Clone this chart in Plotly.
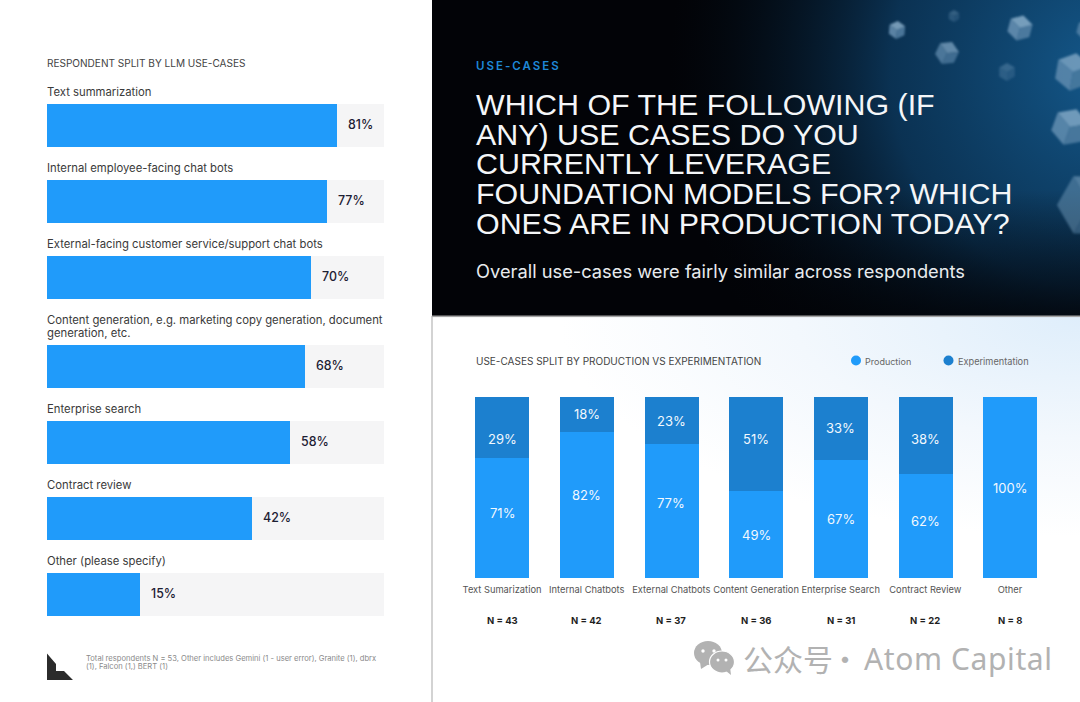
import base64
import plotly.graph_objects as go

W, H = 1080, 702

# Left panel. The picture's bars are not proportional to their printed labels,
# so the drawn length (share of the grey track) and the printed label are kept apart.
use_cases = ["Text summarization", "Internal employee-facing chat bots",
             "External-facing customer service/support chat bots",
             "Content generation, e.g. marketing copy generation, document<br>generation, etc.",
             "Enterprise search", "Contract review", "Other (please specify)"]
use_case_drawn = [86.1, 83.1, 78.3, 76.6, 72.1, 60.8, 27.6]
use_case_labels = ["81%", "77%", "70%", "68%", "58%", "42%", "15%"]

# Right panel: same distinction for the stacked bars
categories = ["Text Sumarization", "Internal Chatbots", "External Chatbots", "Content Generation",
              "Enterprise Search", "Contract Review", "Other"]
production_drawn = [66.3, 80.7, 74.0, 48.0, 65.2, 57.5, 100.0]
experimentation_drawn = [33.7, 19.3, 26.0, 52.0, 34.8, 42.5, 0.0]
production_labels = ["71%", "82%", "77%", "49%", "67%", "62%", "100%"]
experimentation_labels = ["29%", "18%", "23%", "51%", "33%", "38%", ""]
respondents = ["N = 43", "N = 42", "N = 37", "N = 36", "N = 31", "N = 22", "N = 8"]

title_lines = ["WHICH OF THE FOLLOWING (IF", "ANY) USE CASES DO YOU", "CURRENTLY LEVERAGE",
               "FOUNDATION MODELS FOR? WHICH", "ONES ARE IN PRODUCTION TODAY?"]

BLUE, DARK = "#209BFA", "#1C80CF"
SANS = "Inter, Arial, sans-serif"
LIB = "Liberation Sans, Arial, sans-serif"


def cube(cx, cy, r, op, rot=0):
    a = (cx, cy - r); b = (cx + r * .87, cy - r * .5); c = (cx + r * .87, cy + r * .5)
    d = (cx, cy + r); e = (cx - r * .87, cy + r * .5); f = (cx - r * .87, cy - r * .5); o = (cx, cy)
    p = lambda *q: " ".join(f"{x:.1f},{y:.1f}" for x, y in q)
    return (f'<g opacity="{op}" transform="rotate({rot} {cx} {cy})"><polygon points="{p(a,b,o,f)}" fill="#8fb3cf"/>'
            f'<polygon points="{p(f,o,d,e)}" fill="#6e97b8"/>'
            f'<polygon points="{p(o,b,c,d)}" fill="#5a86a9"/></g>')


cubes = "".join(cube(*c) for c in [(897, 30, 9, .8, 5), (954, 16, 6, .3, 0), (1020, 28, 13, .8, 15), (947, 53, 12, .65, 25),
                                   (1007, 72, 9, .3, 0), (1073, 72, 19, .7, 10), (1070, 127, 19, .75, 20),
                                   (1090, 205, 33, .5, 30), (1086, 30, 10, .6, 15)])
svg = f'''<svg xmlns="http://www.w3.org/2000/svg" width="{W}" height="{H}" viewBox="0 0 {W} {H}">
<defs>
<radialGradient id="g1" gradientUnits="userSpaceOnUse" cx="1110" cy="70" r="440">
<stop offset="0" stop-color="#14598c" stop-opacity="1"/><stop offset=".5" stop-color="#0c3a60" stop-opacity=".85"/>
<stop offset="1" stop-color="#04101c" stop-opacity="0"/></radialGradient>
<radialGradient id="g2" gradientUnits="userSpaceOnUse" cx="1080" cy="318" r="520"
 gradientTransform="translate(1080 318) scale(1 .42) translate(-1080 -318)">
<stop offset="0" stop-color="#dfeefb"/><stop offset=".55" stop-color="#f3f8fd"/><stop offset="1" stop-color="#ffffff"/></radialGradient>
<linearGradient id="g3" x1="0" y1="0" x2="0" y2="1"><stop offset=".6" stop-color="#020307" stop-opacity="0"/>
<stop offset="1" stop-color="#020307" stop-opacity=".8"/></linearGradient>
<filter id="b"><feGaussianBlur stdDeviation="1"/></filter>
</defs>
<rect width="{W}" height="{H}" fill="#fff"/>
<rect x="432" y="317" width="648" height="385" fill="url(#g2)"/>
<rect x="432" y="0" width="648" height="316" fill="#020307"/>
<rect x="432" y="0" width="648" height="316" fill="url(#g1)"/>
<rect x="432" y="0" width="648" height="316" fill="url(#g3)"/>
<g filter="url(#b)">{cubes}</g>
<rect x="432" y="315.5" width="648" height="1.6" fill="#a4a4a4"/>
<rect x="431.5" y="316" width="1" height="386" fill="#a8a8a8"/>
<polygon points="47,653.5 56,664 56,671 64,671 73,680 47,680" fill="#2b2b2b"/>
<g fill="#b2b2b2"><ellipse cx="708" cy="653" rx="14" ry="12"/><polygon points="700,662 701,669 709,664"/></g>
<circle cx="703" cy="651" r="1.7" fill="#fff"/><circle cx="714" cy="651" r="1.7" fill="#fff"/>
<ellipse cx="722" cy="662" rx="12.5" ry="11" fill="#b2b2b2" stroke="#fff" stroke-width="1.2"/>
<polygon points="726,671 731,675 730,667" fill="#b2b2b2"/>
<circle cx="718" cy="660" r="1.5" fill="#fff"/><circle cx="726" cy="660" r="1.5" fill="#fff"/>
</svg>'''
bg = "data:image/svg+xml;base64," + base64.b64encode(svg.encode()).decode()

fig = go.Figure()

# ---- left bars: y axis runs in canvas rows; each row grows with its label's line count
row_centers, y = [], 125.5
for i, lab in enumerate(use_cases):
    y += 13 * lab.count("<br>") if i else 0
    row_centers.append(y)
    y += 76
fig.add_bar(x=[100] * 7, y=row_centers, orientation="h", width=43, marker=dict(color="#F5F5F6", line_width=0),
            xaxis="x", yaxis="y", showlegend=False, hoverinfo="skip")
fig.add_bar(x=use_case_drawn, y=row_centers, orientation="h", width=43, marker=dict(color=BLUE, line_width=0),
            xaxis="x", yaxis="y", showlegend=False)

# ---- right stacked bars
fig.add_bar(x=categories, y=production_drawn, name="Production", width=0.638, marker=dict(color=BLUE, line_width=0),
            xaxis="x2", yaxis="y2", showlegend=False, offsetgroup="a", base=0)
fig.add_bar(x=categories, y=experimentation_drawn, name="Experimentation", width=0.638,
            marker=dict(color=DARK, line_width=0), xaxis="x2", yaxis="y2", showlegend=False,
            offsetgroup="a", base=production_drawn)

ann = []


def text(px, py, s, size, color="#333", anchor="left", font=SANS, weight=400):
    ann.append(dict(x=px / W, y=1 - py / H, xref="paper", yref="paper", text=s, showarrow=False, xanchor=anchor,
                    yanchor="middle", align="left", borderpad=0,
                    font=dict(size=size, color=color, family=font, weight=weight)))


text(46, 63.5, "RESPONDENT SPLIT BY LLM USE-CASES", 10.05, "#444")
for lab, c, drawn, pct in zip(use_cases, row_centers, use_case_drawn, use_case_labels):
    parts = lab.split("<br>")
    for k, part in enumerate(parts):
        text(46, c - 33.8 - 13 * (len(parts) - 1 - k), part, 11.3, "#3a3a3a")
    ann.append(dict(x=drawn, y=c, xref="x", yref="y", text=pct, showarrow=False, xanchor="left", yanchor="middle",
                    xshift=9, yshift=1, font=dict(size=12.4, color="#1d2033", family=SANS, weight=500)))
text(85, 658, "Total respondents N = 53, Other includes Gemini (1 - user error), Granite (1), dbrx", 7.6, "#8a8a8a")
text(85, 666.5, "(1), Falcon (1,) BERT (1)", 7.6, "#8a8a8a")

text(474.5, 65.5, "USE-CASES", 11, "#1F88D8", weight=600)
for i, line in enumerate(title_lines):
    text(475, 104 + 29.7 * i, line, 30.4, "#F4F6F8", font=LIB)
text(475, 271.5, "Overall use-cases were fairly similar across respondents", 18.3, "#E8EBEE")

text(474.5, 361, "USE-CASES SPLIT BY PRODUCTION VS EXPERIMENTATION", 10, "#444")
text(863.5, 361, "Production", 9, "#666")
text(956.5, 361, "Experimentation", 9.2, "#666")

prod_shift = [5, 10, 8, 0, 0, 5, 0]
exp_shift = [-11, 0, 0, 5, 0, -4, 0]
for i, cat in enumerate(categories):
    p, e = production_drawn[i], experimentation_drawn[i]
    ann.append(dict(x=cat, y=p / 2, xref="x2", yref="y2", text=production_labels[i], showarrow=False,
                    yanchor="middle", yshift=prod_shift[i], font=dict(size=13, color="#F2F8FE", family=SANS)))
    if experimentation_labels[i]:
        ann.append(dict(x=cat, y=p + e / 2, xref="x2", yref="y2", text=experimentation_labels[i], showarrow=False,
                        yanchor="middle", yshift=exp_shift[i], font=dict(size=13, color="#F2F8FE", family=SANS)))
    ann.append(dict(x=cat, y=1 - 620.5 / H, xref="x2", yref="paper", text=respondents[i], showarrow=False,
                    yanchor="middle", font=dict(size=9.5, color="#1f1f1f", family=SANS, weight=700)))

text(741.5, 658, "公众号", 30, "#b2b2b2", font="Noto Sans CJK SC")
text(829, 658, "·", 30, "#b2b2b2", font="Noto Sans CJK SC")
text(863, 658, "Atom Capital", 30, "#b2b2b2", font="Noto Sans, sans-serif")

shapes = [dict(type="circle", xref="paper", yref="paper", x0=(cx - 5) / W, x1=(cx + 5) / W, y0=1 - 365.5 / H, y1=1 - 355.5 / H,
               fillcolor=col, line_width=0) for cx, col in [(856, BLUE), (948.5, DARK)]]

fig.update_layout(
    width=W, height=H, margin=dict(l=0, r=0, t=0, b=0, pad=0), autosize=False,
    paper_bgcolor="white", plot_bgcolor="rgba(0,0,0,0)", barmode="overlay", showlegend=False, bargap=0,
    images=[dict(source=bg, xref="paper", yref="paper", x=0, y=1, sizex=1, sizey=1, sizing="stretch",
                 xanchor="left", yanchor="top", layer="below")],
    annotations=ann, shapes=shapes,
    xaxis=dict(domain=[47 / W, 384 / W], range=[0, 100], visible=False, fixedrange=True),
    yaxis=dict(domain=[0, 1], range=[H, 0], visible=False, fixedrange=True),
    xaxis2=dict(domain=[459.7 / W, 1052.3 / W], type="category", categoryorder="array", categoryarray=categories,
                range=[-0.5, 6.5], anchor="y2", showgrid=False, showline=False, zeroline=False, ticks="", tickangle=0,
                ticklabelstandoff=5, tickfont=dict(size=9.3, color="#555", family=SANS), fixedrange=True),
    yaxis2=dict(domain=[(H - 578) / H, (H - 397) / H], range=[0, 100], anchor="x2", visible=False, fixedrange=True),
)

spacing = """
document.body.style.margin='0';document.body.style.overflow='hidden';
document.querySelectorAll('.annotation-text').forEach(function(t){
  if(t.textContent==='USE-CASES'){t.style.letterSpacing='2px';t.style.fontSize='11.5px';}
  if(t.textContent==='Atom Capital'){t.style.letterSpacing='0.6px';}
});
"""
fig.write_html("out.html", config=dict(displayModeBar=False), post_script=spacing)
